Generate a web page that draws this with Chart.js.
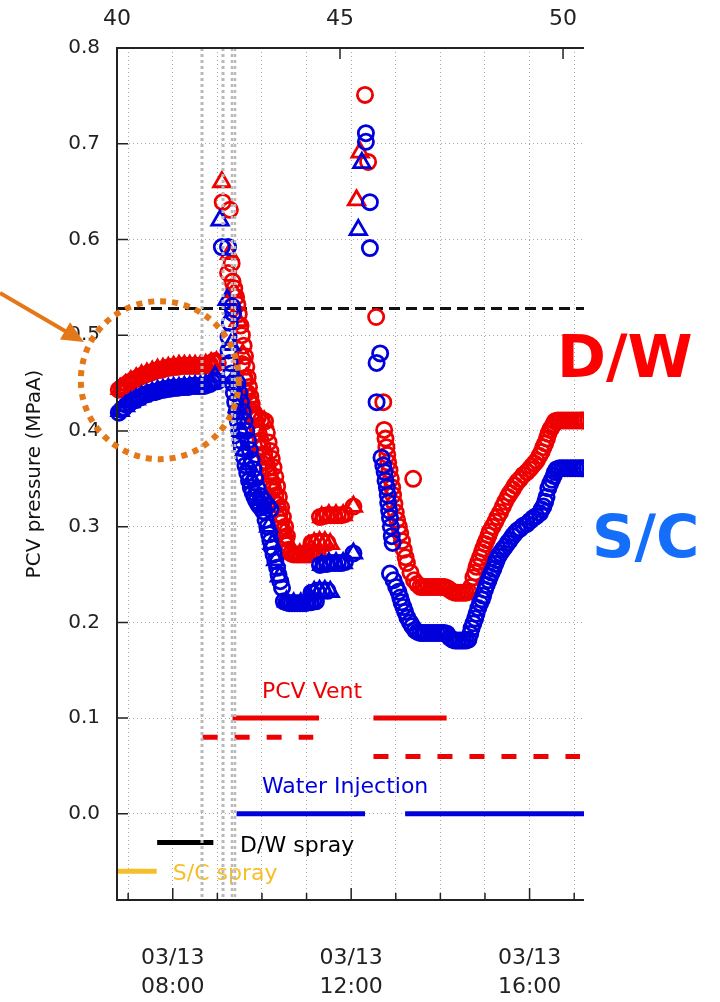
<!DOCTYPE html>
<html>
<head>
<meta charset="utf-8">
<script src="https://cdn.jsdelivr.net/npm/chart.js@4.4.1/dist/chart.umd.min.js"></script>
<style>
  html, body { margin: 0; background: #fff; }
</style>
</head>
<body>
<canvas id="grafico-pcv" width="720" height="1002"></canvas>
<script>
// eixo x em horas desde o terremoto (03/11 14:46); 41.25 h = 03/13 08:00
const horasTicks = [40.25, 41.25, 42.25, 43.25, 44.25, 45.25, 46.25, 47.25, 48.25, 49.25, 50.25];
const horasRotulos = { 41.25: ["03/13", "08:00"], 45.25: ["03/13", "12:00"], 49.25: ["03/13", "16:00"] };
const horasTopo = [40, 45, 50];
const pressaoTicks = [0, 0.1, 0.2, 0.3, 0.4, 0.5, 0.6, 0.7, 0.8];

// eventos (linhas cinzas) e pressão de projeto
const eventosHoras = [41.9, 42.37, 42.57, 42.64];
const pressaoProjeto = 0.528;

// D/W - círculos
const dwCirculos = [
  [40.04,.443],[40.10,.445],[40.16,.447],[40.22,.449],[40.28,.451],[40.34,.452],[40.40,.454],[40.46,.455],
  [40.52,.457],[40.58,.458],[40.64,.459],[40.70,.460],[40.76,.461],[40.82,.462],[40.88,.463],[40.94,.464],
  [41.00,.464],[41.06,.465],[41.12,.466],[41.18,.466],[41.24,.467],[41.30,.467],[41.36,.467],[41.42,.468],
  [41.48,.468],[41.54,.468],[41.60,.468],[41.66,.468],[41.72,.468],[41.78,.468],[41.84,.468],[41.90,.468],
  [41.96,.468],[42.02,.469],[42.08,.470],[42.14,.472],[42.20,.473],[42.26,.471],
  [42.37,.639],[42.53,.631],[42.49,.565],[42.57,.575],[42.59,.556],[42.63,.549],[42.67,.540],[42.70,.532],
  [42.73,.522],[42.77,.510],[42.80,.500],[42.84,.489],[42.87,.478],[42.90,.467],[42.93,.456],[42.96,.446],
  [42.99,.436],[43.02,.428],[43.06,.420],[43.10,.412],[43.14,.404],[43.18,.397],[43.22,.390],[43.26,.383],
  [43.30,.376],[43.34,.368],[43.38,.361],[43.42,.354],[43.46,.347],[43.50,.340],[43.55,.332],[43.60,.323],
  [43.64,.313],[43.68,.304],[43.72,.296],[43.76,.288],[43.80,.281],[43.85,.276],
  [42.80,.470],[42.86,.455],[42.92,.440],[43.00,.430],[43.08,.418],[43.16,.414],[43.24,.412],[43.32,.410],
  [43.36,.398],[43.40,.388],[43.44,.379],[43.47,.371],[43.51,.362],[43.55,.352],[43.59,.342],[43.63,.331],
  [43.68,.320],[43.72,.310],[43.77,.300],[43.81,.290],
  [43.90,.272],[43.96,.271],[44.02,.271],[44.08,.271],[44.14,.271],[44.20,.271],[44.26,.271],[44.32,.271],
  [44.38,.272],[44.44,.272],[44.50,.272],
  [44.36,.283],[44.48,.284],[44.60,.284],[44.72,.283],
  [44.55,.310],[44.63,.311],[44.71,.312],[44.79,.312],[44.87,.312],[44.95,.312],[45.03,.312],[45.11,.313],
  [45.30,.321],
  [45.56,.751],[45.63,.681],[45.81,.519],[45.97,.430],[45.99,.401],[46.02,.392],[46.04,.383],[46.06,.375],
  [46.08,.367],[46.11,.359],[46.14,.350],[46.17,.341],[46.19,.333],[46.22,.324],[46.25,.315],[46.28,.307],
  [46.32,.300],[46.35,.293],[46.39,.285],[46.43,.276],[46.47,.268],[46.50,.262],[46.58,.252],[46.66,.244],
  [46.73,.240],[46.64,.350],
  [46.80,.237],[46.86,.237],[46.92,.237],[46.98,.237],[47.04,.237],[47.10,.237],[47.16,.237],[47.22,.237],
  [47.28,.237],[47.34,.237],[47.40,.236],[47.46,.234],[47.52,.232],[47.58,.231],[47.64,.231],[47.70,.231],
  [47.76,.231],[47.82,.231],[47.88,.232],[47.94,.237],
  [47.99,.247],[48.03,.252],[48.06,.258],[48.10,.263],[48.14,.268],[48.18,.273],[48.21,.277],[48.25,.282],
  [48.29,.286],[48.33,.291],[48.36,.295],[48.42,.300],[48.48,.305],[48.53,.310],[48.59,.315],[48.65,.321],
  [48.70,.326],[48.76,.331],[48.81,.335],[48.87,.339],[48.92,.343],[48.98,.347],[49.04,.350],[49.11,.354],
  [49.19,.357],[49.25,.360],[49.30,.363],[49.36,.366],[49.41,.369],[49.47,.374],[49.52,.378],[49.56,.383],
  [49.60,.387],[49.64,.392],[49.67,.397],[49.71,.401],[49.75,.404],[49.79,.407],[49.82,.410],[49.88,.411],
  [49.94,.411],[50.00,.411],[50.06,.411],[50.12,.411],[50.18,.411],[50.24,.411],[50.30,.411],[50.36,.411],
  [50.42,.411],[50.48,.411]
];

// D/W - triângulos
const dwTriangulos = [
  [40.07,.444],[40.19,.448],[40.31,.452],[40.43,.455],[40.55,.458],[40.67,.460],[40.79,.462],[40.91,.464],
  [41.03,.465],[41.15,.466],[41.27,.467],[41.39,.468],[41.51,.468],[41.63,.468],[41.75,.468],[41.87,.468],
  [41.99,.469],[42.11,.471],[42.23,.472],
  [42.35,.660],[42.52,.585],[42.62,.545],[42.72,.515],[42.82,.480],[42.90,.455],[42.98,.435],[43.06,.415],
  [43.14,.400],[43.22,.385],[43.30,.410],[43.36,.370],[43.44,.355],[43.52,.340],[43.60,.325],[43.66,.310],
  [43.74,.295],[43.80,.285],
  [43.94,.272],[44.10,.271],[44.26,.271],[44.42,.272],
  [44.30,.280],[44.42,.283],[44.54,.284],[44.66,.284],[44.78,.282],
  [44.59,.310],[44.75,.312],[44.91,.312],[45.07,.312],[45.30,.321],
  [45.45,.691],[45.37,.641]
];

// S/C - círculos
const scCirculos = [
  [40.04,.419],[40.10,.422],[40.16,.424],[40.22,.427],[40.28,.429],[40.34,.431],[40.40,.432],[40.46,.434],
  [40.52,.435],[40.58,.437],[40.64,.438],[40.70,.439],[40.76,.440],[40.82,.441],[40.88,.441],[40.94,.442],
  [41.00,.443],[41.06,.443],[41.12,.444],[41.18,.444],[41.24,.445],[41.30,.445],[41.36,.445],[41.42,.446],
  [41.48,.446],[41.54,.446],[41.60,.446],[41.66,.447],[41.72,.447],[41.78,.447],[41.84,.447],[41.90,.447],
  [41.96,.447],[42.02,.448],[42.08,.449],[42.14,.451],[42.20,.453],[42.26,.452],
  [42.35,.592],[42.49,.592],[42.58,.530],[42.60,.523],[42.53,.513],[42.50,.498],[42.50,.484],[42.53,.471],
  [42.56,.460],[42.59,.450],[42.62,.440],[42.65,.430],[42.68,.420],[42.71,.410],[42.74,.400],[42.77,.390],
  [42.80,.382],[42.84,.373],[42.88,.364],[42.92,.356],[42.96,.348],[43.00,.341],[43.04,.336],[43.08,.331],
  [43.12,.327],[43.17,.323],[43.22,.320],[43.28,.316],[43.33,.307],[43.37,.300],[43.41,.292],[43.44,.285],
  [43.47,.278],[43.51,.271],[43.55,.264],[43.59,.257],[43.62,.250],[43.66,.243],[43.70,.236],
  [42.70,.450],[42.74,.440],[42.78,.430],[42.82,.420],[42.86,.410],[42.90,.400],[42.94,.390],[42.98,.380],
  [43.02,.370],[43.06,.360],[43.10,.350],[43.15,.340],[43.22,.332],[43.30,.327],[43.38,.322],[43.44,.318],
  [43.74,.222],[43.80,.221],[43.86,.220],[43.92,.220],[43.98,.220],[44.04,.220],[44.10,.220],[44.16,.220],
  [44.22,.220],[44.28,.221],[44.34,.221],[44.40,.222],[44.46,.222],
  [44.36,.231],[44.48,.233],[44.60,.233],[44.72,.233],
  [44.55,.260],[44.63,.261],[44.71,.261],[44.79,.262],[44.87,.262],[44.95,.262],[45.03,.262],[45.11,.263],
  [45.30,.272],
  [45.58,.711],[45.58,.702],[45.67,.639],[45.67,.591],[45.90,.481],[45.82,.471],[45.82,.430],[45.93,.372],
  [45.97,.364],[46.00,.357],[46.02,.348],[46.05,.341],[46.07,.333],[46.08,.325],[46.10,.317],[46.12,.309],
  [46.14,.300],[46.16,.290],[46.18,.283],[46.12,.251],[46.20,.244],[46.26,.237],[46.31,.232],[46.35,.226],
  [46.38,.221],[46.42,.216],[46.46,.211],[46.51,.205],[46.57,.200],[46.62,.196],[46.68,.192],[46.74,.190],
  [46.80,.189],[46.86,.189],[46.92,.189],[46.98,.189],[47.04,.189],[47.10,.189],[47.16,.189],[47.22,.189],
  [47.28,.189],[47.34,.189],[47.40,.188],[47.46,.184],[47.52,.182],[47.58,.181],[47.64,.181],[47.70,.181],
  [47.76,.181],[47.82,.181],[47.88,.182],
  [47.92,.188],[47.95,.194],[47.99,.199],[48.03,.204],[48.06,.209],[48.10,.215],[48.14,.220],[48.18,.224],
  [48.21,.228],[48.25,.234],[48.29,.239],[48.33,.244],[48.36,.248],[48.40,.252],[48.44,.256],[48.48,.261],
  [48.51,.265],[48.55,.269],[48.59,.272],[48.65,.276],[48.70,.279],[48.76,.283],[48.81,.286],[48.87,.290],
  [48.92,.293],[48.98,.296],[49.04,.298],[49.11,.301],[49.19,.303],[49.26,.306],[49.33,.309],[49.40,.311],
  [49.48,.314],[49.52,.318],[49.56,.321],[49.60,.326],[49.63,.331],[49.67,.340],[49.71,.345],[49.75,.349],
  [49.79,.353],[49.82,.357],[49.86,.360],[49.92,.361],[49.98,.361],[50.04,.361],[50.10,.361],[50.16,.361],
  [50.22,.361],[50.28,.361],[50.34,.361],[50.40,.361],[50.46,.361]
];

// S/C - triângulos
const scTriangulos = [
  [40.07,.421],[40.19,.426],[40.31,.430],[40.43,.433],[40.55,.436],[40.67,.438],[40.79,.440],[40.91,.442],
  [41.03,.443],[41.15,.444],[41.27,.445],[41.39,.445],[41.51,.446],[41.63,.446],[41.75,.447],[41.87,.447],
  [41.99,.448],[42.11,.450],[42.20,.457],
  [42.31,.620],[42.47,.537],[42.55,.490],[42.62,.455],[42.70,.425],[42.78,.400],[42.86,.380],[42.94,.365],
  [43.02,.350],[43.10,.338],[43.20,.328],[43.30,.322],[43.40,.300],[43.48,.282],[43.56,.265],[43.64,.248],
  [43.80,.222],[43.96,.220],[44.12,.220],[44.28,.221],
  [44.30,.228],[44.42,.232],[44.54,.233],[44.66,.233],[44.78,.232],
  [44.59,.260],[44.75,.262],[44.91,.262],[45.07,.262],[45.30,.272],
  [45.49,.680],[45.41,.610]
];

// operações (segmentos horizontais)
const ventSolido = [[42.59, 44.53], [45.75, 47.39]];
const ventTracejado = [[41.92, 44.40, 0.08], [45.75, 50.38, 0.06]];
const injecaoAgua = [[42.68, 45.56], [46.46, 50.50]];
const sprayDW = [40.90, 42.16, -0.030];
const spraySC = [40.00, 40.89, -0.060];

const VERMELHO = "rgb(238,0,0)";
const AZUL = "rgb(0,0,220)";
const AMARELO = "rgb(246,190,40)";
const LARANJA = "rgb(228,120,24)";
const FONTE = '"DejaVu Sans", sans-serif';

const pts = arr => arr.map(p => ({ x: p[0], y: p[1] }));

function marcadores(dados, cor, estilo, raio) {
  return {
    data: pts(dados),
    pointStyle: estilo,
    pointRadius: raio,
    pointBorderWidth: 2.8,
    pointBorderColor: cor,
    pointBackgroundColor: "rgba(0,0,0,0)",
    showLine: false,
    clip: { left: 9, top: 0, right: 0, bottom: 0 },
  };
}

function segmento(x0, x1, y, cor, tracejado) {
  return {
    data: [{ x: x0, y }, { x: x1, y }],
    showLine: true,
    borderColor: cor,
    borderWidth: 5,
    borderDash: tracejado || [],
    borderCapStyle: "butt",
    pointRadius: 0,
  };
}

const datasets = [
  marcadores(scCirculos, AZUL, "circle", 7.6),
  marcadores(scTriangulos, AZUL, "triangle", 9.5),
  marcadores(dwCirculos, VERMELHO, "circle", 7.6),
  marcadores(dwTriangulos, VERMELHO, "triangle", 9.5),
  segmento(40, 50.47, pressaoProjeto, "#111", [11, 6]),
  ...ventSolido.map(s => segmento(s[0], s[1], 0.1, VERMELHO)),
  ...ventTracejado.map(s => segmento(s[0], s[1], s[2], VERMELHO, [15, 17])),
  ...injecaoAgua.map(s => segmento(s[0], s[1], 0, AZUL)),
  segmento(sprayDW[0], sprayDW[1], sprayDW[2], "#000"),
  segmento(spraySC[0], spraySC[1], spraySC[2], AMARELO),
];
datasets[4].borderWidth = 3;

const rotulos = [
  { texto: "PCV Vent", x: 43.25, y: 0.121, cor: VERMELHO },
  { texto: "Water Injection", x: 43.25, y: 0.0215, cor: AZUL },
  { texto: "D/W spray", x: 42.76, y: -0.040, cor: "#000" },
  { texto: "S/C spray", x: 41.25, y: -0.069, cor: AMARELO },
];

const decoracao = {
  id: "decoracao",
  afterDatasetsDraw(chart) {
    const { ctx, chartArea: a, scales: { x, y } } = chart;
    ctx.save();

    ctx.font = `22px ${FONTE}`;
    ctx.textBaseline = "alphabetic";
    ctx.textAlign = "left";
    rotulos.forEach(r => {
      ctx.fillStyle = r.cor;
      ctx.fillText(r.texto, x.getPixelForValue(r.x), y.getPixelForValue(r.y));
    });

    // linhas de eventos
    ctx.strokeStyle = "rgb(185,185,185)";
    ctx.setLineDash([3, 3]);
    eventosHoras.forEach((h, i) => {
      ctx.lineWidth = i < 2 ? 3 : 2.5;
      const px = Math.round(x.getPixelForValue(h));
      ctx.beginPath();
      ctx.moveTo(px, a.top);
      ctx.lineTo(px, a.bottom);
      ctx.stroke();
    });
    ctx.setLineDash([]);

    // moldura (sem lado direito)
    ctx.strokeStyle = "#222";
    ctx.lineWidth = 2;
    ctx.beginPath();
    ctx.moveTo(a.right, a.top); ctx.lineTo(a.left, a.top);
    ctx.lineTo(a.left, a.bottom); ctx.lineTo(a.right, a.bottom);
    ctx.stroke();

    ctx.lineWidth = 1.5;
    ctx.beginPath();
    pressaoTicks.forEach(v => {
      const py = y.getPixelForValue(v);
      ctx.moveTo(a.left, py); ctx.lineTo(a.left + 11, py);
    });
    horasTicks.forEach(h => {
      const px = x.getPixelForValue(h);
      const len = horasRotulos[h] ? 12 : 7;
      ctx.moveTo(px, a.bottom); ctx.lineTo(px, a.bottom - len);
    });
    horasTopo.forEach(h => {
      const px = x.getPixelForValue(h);
      ctx.moveTo(px, a.top); ctx.lineTo(px, a.top + 11);
    });
    ctx.stroke();
    ctx.restore();
  },
  afterDraw(chart) {
    const { ctx, chartArea: a, scales: { x, y } } = chart;
    ctx.save();

    // círculo pontilhado laranja
    ctx.strokeStyle = LARANJA;
    ctx.lineWidth = 6;
    ctx.setLineDash([6, 6]);
    ctx.beginPath();
    ctx.arc(x.getPixelForValue(40.96), y.getPixelForValue(0.453), 79, 0, Math.PI * 2);
    ctx.stroke();
    ctx.setLineDash([]);

    // seta
    const x0 = 0, y0 = a.top + 245;
    const x1 = a.left - 33, y1 = a.top + 294;
    const ang = Math.atan2(y1 - y0, x1 - x0);
    ctx.lineWidth = 4;
    ctx.beginPath();
    ctx.moveTo(x0, y0);
    ctx.lineTo(x1 - 16 * Math.cos(ang), y1 - 16 * Math.sin(ang));
    ctx.stroke();
    ctx.fillStyle = LARANJA;
    ctx.beginPath();
    ctx.moveTo(x1, y1);
    ctx.lineTo(x1 - 22 * Math.cos(ang) + 10 * Math.sin(ang), y1 - 22 * Math.sin(ang) - 10 * Math.cos(ang));
    ctx.lineTo(x1 - 22 * Math.cos(ang) - 10 * Math.sin(ang), y1 - 22 * Math.sin(ang) + 10 * Math.cos(ang));
    ctx.closePath();
    ctx.fill();

    // rótulos grandes
    ctx.font = `bold 59px ${FONTE}`;
    ctx.textAlign = "left";
    ctx.textBaseline = "alphabetic";
    ctx.fillStyle = "rgb(255,0,0)";
    ctx.fillText("D/W", a.right - 27, a.top + 329);
    ctx.fillStyle = "rgb(20,110,250)";
    ctx.fillText("S/C", a.right + 8, a.top + 509);
    ctx.restore();
  },
};

new Chart(document.getElementById("grafico-pcv"), {
  type: "scatter",
  data: { datasets },
  options: {
    responsive: false,
    animation: false,
    events: [],
    layout: { padding: { right: 136 } },
    plugins: { legend: { display: false }, tooltip: { enabled: false } },
    scales: {
      x: {
        type: "linear",
        position: "bottom",
        min: 40,
        max: 50.47,
        afterBuildTicks: s => { s.ticks = horasTicks.map(v => ({ value: v })); },
        afterFit: s => { s.height = 102; },
        grid: { color: "rgb(170,170,170)", lineWidth: 1, drawTicks: false },
        border: { display: false, dash: [1, 3] },
        ticks: {
          autoSkip: false,
          maxRotation: 0,
          padding: 44,
          color: "#222",
          font: { family: FONTE, size: 22, lineHeight: 1.32 },
          callback: v => horasRotulos[v] || "",
        },
      },
      x2: {
        type: "linear",
        position: "top",
        min: 40,
        max: 50.47,
        afterBuildTicks: s => { s.ticks = horasTopo.map(v => ({ value: v })); },
        afterFit: s => { s.height = 48; },
        grid: { display: false, drawTicks: false },
        border: { display: false },
        ticks: {
          autoSkip: false,
          maxRotation: 0,
          padding: 16,
          color: "#222",
          font: { family: FONTE, size: 22 },
          callback: v => String(v),
        },
      },
      y: {
        min: -0.09,
        max: 0.8,
        afterBuildTicks: s => { s.ticks = pressaoTicks.map(v => ({ value: v })); },
        afterFit: s => { s.width = 117; },
        grid: { color: "rgb(170,170,170)", lineWidth: 1, drawTicks: false },
        border: { display: false, dash: [1, 3] },
        title: {
          display: true,
          text: "PCV pressure (MPaA)",
          color: "#111",
          font: { family: FONTE, size: 20 },
          padding: { top: 23, bottom: 0 },
        },
        ticks: {
          padding: 17,
          color: "#222",
          font: { family: FONTE, size: 20 },
          callback: v => v.toFixed(1),
        },
      },
    },
  },
  plugins: [decoracao],
});
</script>
</body>
</html>
